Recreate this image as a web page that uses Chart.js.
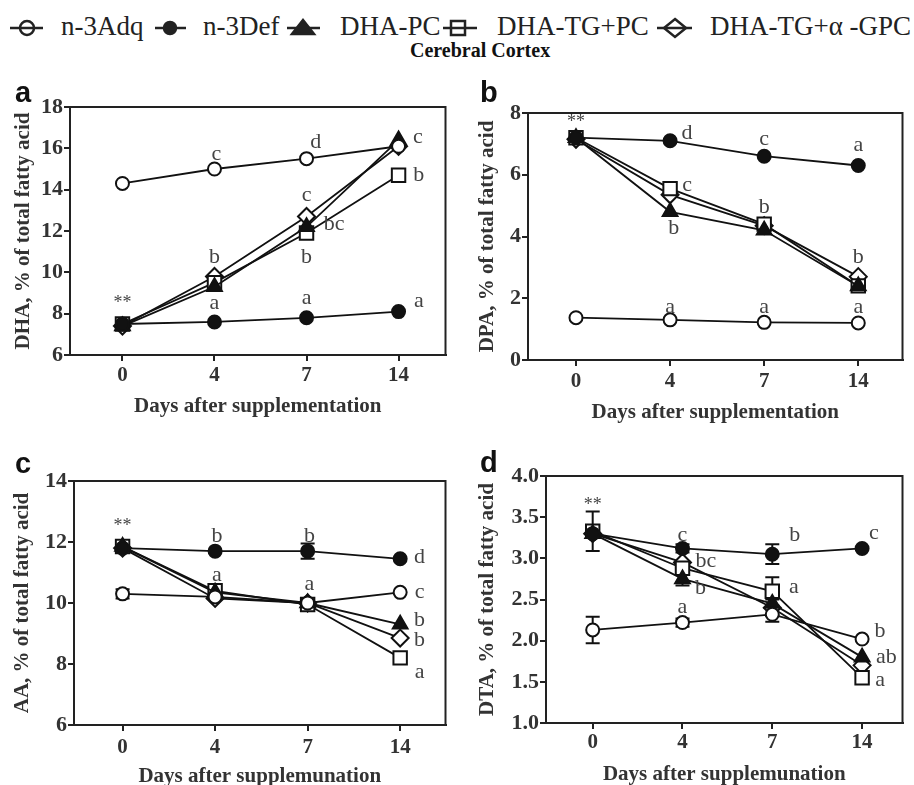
<!DOCTYPE html>
<html lang="en">
<head>
<meta charset="UTF-8">
<title>Cerebral Cortex</title>
<script src="https://cdn.jsdelivr.net/npm/chart.js"></script>
<style>
  body { margin: 0; background: #fff; width: 914px; height: 785px; overflow: hidden; position: relative;
         font-family: "Liberation Serif", "Times New Roman", serif; }
  canvas { position: absolute; }
  .leg { position: absolute; top: 13px; font-size: 27px; line-height: 27px; color: #222; white-space: nowrap; }
  .tag { position: absolute; font-family: "Liberation Sans", Arial, sans-serif; font-weight: bold;
         font-size: 29px; line-height: 29px; color: #111; }
  .head { position: absolute; left: 410px; top: 40px; font-weight: bold; font-size: 20px; line-height: 20px; color: #111; }
</style>
</head>
<body>

<!-- legend -->
<svg width="914" height="50" style="position:absolute;left:0;top:0">
  <g stroke="#222" stroke-width="2.5" fill="none">
    <line x1="10" y1="28" x2="43" y2="28"/><circle cx="27" cy="28" r="7"/>
    <line x1="155" y1="28" x2="186" y2="28"/><circle cx="170" cy="28" r="6" fill="#222"/>
    <line x1="287" y1="28" x2="320" y2="28"/><polygon points="303,20 292,34 314,34" fill="#222"/>
    <line x1="443" y1="28" x2="477" y2="28"/><rect x="451" y="21" width="14" height="14"/>
    <line x1="657" y1="28" x2="692" y2="28"/><polygon points="675,19 686,28 675,37 664,28"/>
  </g>
</svg>
<span class="leg" style="left:61px">n-3Adq</span>
<span class="leg" style="left:203px">n-3Def</span>
<span class="leg" style="left:340px">DHA-PC</span>
<span class="leg" style="left:497px">DHA-TG+PC</span>
<span class="leg" style="left:710px">DHA-TG+α -GPC</span>
<div class="head">Cerebral Cortex</div>

<canvas id="pa" width="457" height="355" style="left:0;top:70px"></canvas>
<canvas id="pb" width="457" height="360" style="left:457px;top:70px"></canvas>
<canvas id="pc" width="457" height="365" style="left:0;top:430px"></canvas>
<canvas id="pd" width="457" height="365" style="left:457px;top:430px"></canvas>

<div class="tag" style="left:15px;top:78px">a</div>
<div class="tag" style="left:480px;top:78px">b</div>
<div class="tag" style="left:15px;top:449px">c</div>
<div class="tag" style="left:480px;top:448px">d</div>

<script>
const days = ['0', '4', '7', '14'];
const groups = ['n-3Adq', 'n-3Def', 'DHA-PC', 'DHA-TG+PC', 'DHA-TG+α -GPC'];

// a: DHA
const dhaAdq = [14.3, 15.0, 15.5, 16.1];
const dhaDef = [7.5, 7.6, 7.8, 8.1];
const dhaPC = [7.4, 9.3, 12.2, 16.4];
const dhaTGPC = [7.5, 9.5, 11.9, 14.7];
const dhaGPC = [7.4, 9.8, 12.7, 16.1];
const dhaNotes = [[0, 8.5, '**'], [1.02, 15.7, 'c'], [2.1, 16.3, 'd'], [3.21, 16.55, 'c'], [3.22, 14.7, 'b'],
  [2.0, 13.75, 'c'], [2.3, 12.35, 'bc'], [2.0, 10.75, 'b'], [1.0, 10.75, 'b'],
  [1.0, 8.5, 'a'], [2.0, 8.75, 'a'], [3.22, 8.6, 'a']];

// b: DPA
const dpaAdq = [1.37, 1.3, 1.22, 1.2];
const dpaDef = [7.2, 7.1, 6.6, 6.3];
const dpaPC = [7.2, 4.8, 4.2, 2.4];
const dpaTGPC = [7.2, 5.55, 4.4, 2.4];
const dpaGPC = [7.15, 5.35, 4.35, 2.7];
const dpaNotes = [[0, 7.7, '**'], [1.18, 7.35, 'd'], [2.0, 7.16, 'c'], [3.0, 6.96, 'a'], [1.18, 5.67, 'c'],
  [1.04, 4.28, 'b'], [2.0, 4.96, 'b'], [3.0, 3.34, 'b'], [1.0, 1.72, 'a'], [2.0, 1.72, 'a'], [3.0, 1.72, 'a']];

// c: AA
const aaAdq = [10.3, 10.2, 10.0, 10.35];
const aaDef = [11.8, 11.7, 11.7, 11.45];
const aaPC = [11.85, 10.35, 10.0, 9.3];
const aaTGPC = [11.85, 10.4, 9.95, 8.2];
const aaGPC = [11.8, 10.15, 10.0, 8.85];
const aaErrAdq = [0.15, 0, 0, 0];
const aaErrDef = [0, 0, 0.25, 0];
const aaNotes = [[0, 12.5, '**'], [1.02, 12.2, 'b'], [2.02, 12.2, 'b'], [3.21, 11.5, 'd'], [1.02, 10.9, 'a'],
  [2.02, 10.6, 'a'], [3.21, 10.36, 'c'], [3.21, 9.42, 'b'], [3.21, 8.79, 'b'], [3.21, 7.72, 'a']];

// d: DTA
const dtaAdq = [2.13, 2.22, 2.32, 2.02];
const dtaDef = [3.3, 3.12, 3.05, 3.12];
const dtaPC = [3.3, 2.75, 2.45, 1.8];
const dtaTGPC = [3.33, 2.88, 2.6, 1.55];
const dtaGPC = [3.3, 2.95, 2.4, 1.7];
const dtaErrAdq = [0.16, 0.05, 0.09, 0];
const dtaErrDef = [0, 0.05, 0.12, 0];
const dtaErrPC = [0, 0.08, 0, 0];
const dtaErrTGPC = [0.24, 0.05, 0.17, 0.05];
const dtaErrGPC = [0, 0, 0.1, 0];
const dtaNotes = [[0, 3.65, '**'], [1.0, 3.28, 'c'], [1.26, 2.97, 'bc'], [1.2, 2.64, 'b'], [1.0, 2.41, 'a'],
  [2.25, 3.28, 'b'], [2.24, 2.65, 'a'], [3.13, 3.3, 'c'], [3.2, 2.12, 'b'], [3.27, 1.8, 'ab'], [3.2, 1.52, 'a']];

const serif = '"Liberation Serif", "Times New Roman", serif';
const looks = [
  {style: 'circle', r: 6.5, fill: '#fff'},
  {style: 'circle', r: 6.5, fill: '#111'},
  {style: 'triangle', r: 8.5, fill: '#111'},
  {style: 'rect', r: 9.5, fill: '#fff'},
  {style: 'rectRot', r: 8.5, fill: '#fff'}
];

const frame = {
  id: 'frame',
  beforeDatasetsDraw(chart) {
    const {ctx, chartArea: a} = chart;
    ctx.save();
    ctx.strokeStyle = '#222';
    ctx.lineWidth = 2;
    ctx.strokeRect(a.left, a.top, a.right - a.left, a.bottom - a.top);
    ctx.restore();
  }
};

const errorBars = {
  id: 'errorBars',
  beforeDatasetsDraw(chart) {
    const {ctx, scales: {x, y}} = chart;
    ctx.save();
    ctx.strokeStyle = '#111';
    ctx.lineWidth = 2;
    chart.data.datasets.forEach(ds => {
      if (!ds.err) return;
      ds.data.forEach((p, i) => {
        const e = ds.err[i];
        if (!e) return;
        const px = x.getPixelForValue(p.x);
        const top = y.getPixelForValue(p.y + e), bot = y.getPixelForValue(p.y - e);
        ctx.beginPath();
        ctx.moveTo(px, top); ctx.lineTo(px, bot);
        ctx.moveTo(px - 7, top); ctx.lineTo(px + 7, top);
        ctx.moveTo(px - 7, bot); ctx.lineTo(px + 7, bot);
        ctx.stroke();
      });
    });
    ctx.restore();
  }
};

function letters(notes) {
  return {
    id: 'letters',
    afterDatasetsDraw(chart) {
      const {ctx, scales: {x, y}} = chart;
      ctx.save();
      ctx.fillStyle = '#444';
      ctx.textAlign = 'center';
      ctx.textBaseline = 'middle';
      notes.forEach(([i, v, t]) => {
        ctx.font = (t === '**' ? '18px ' : '22px ') + serif;
        ctx.fillText(t, x.getPixelForValue(i), y.getPixelForValue(v));
      });
      ctx.restore();
    }
  };
}

function makePanel(id, p) {
  const datasets = p.series.map((vals, k) => ({
    label: groups[k],
    data: vals.map((v, i) => ({x: i, y: v})),
    err: p.errs ? p.errs[k] : null,
    borderColor: '#111',
    borderWidth: 1.8,
    pointStyle: looks[k].style,
    pointRadius: looks[k].r,
    pointHoverRadius: looks[k].r,
    pointBackgroundColor: looks[k].fill,
    pointBorderColor: '#111',
    pointBorderWidth: 2,
    tension: 0,
    fill: false
  }));
  return new Chart(document.getElementById(id), {
    type: 'line',
    data: {datasets},
    options: {
      responsive: false,
      animation: false,
      events: [],
      layout: {padding: {top: p.padTop, right: p.padRight, left: 0, bottom: 0}},
      plugins: {legend: {display: false}, tooltip: {enabled: false}},
      scales: {
        x: {
          type: 'linear', min: p.xMin, max: p.xMax,
          afterBuildTicks: s => { s.ticks = days.map((d, i) => ({value: i})); },
          afterFit: s => { s.height = p.xH; },
          ticks: {callback: v => days[v], font: {family: serif, size: 21, weight: 'bold'}, color: '#333',
                  padding: p.xTickPad, maxRotation: 0, autoSkip: false},
          grid: {display: true, drawOnChartArea: false, drawTicks: true, tickLength: 6, color: '#222', lineWidth: 2},
          border: {display: true, color: '#222', width: 2},
          title: {display: true, text: p.xTitle, font: {family: serif, size: 21, weight: 'bold'}, color: '#333',
                  padding: {top: 0, bottom: p.xTitlePad}}
        },
        y: {
          min: p.yMin, max: p.yMax,
          afterFit: s => { s.width = p.yW; },
          ticks: {stepSize: p.yStep, callback: p.yFmt || (v => v), font: {family: serif, size: 22, weight: 'bold'},
                  color: '#333', padding: 1},
          grid: {display: true, drawOnChartArea: false, drawTicks: true, tickLength: 6, color: '#222', lineWidth: 2},
          border: {display: true, color: '#222', width: 2},
          title: {display: true, text: p.yTitle, font: {family: serif, size: 21, weight: 'bold'}, color: '#333',
                  padding: {top: p.yTitlePad, bottom: 0}}
        }
      }
    },
    plugins: [frame, errorBars, letters(p.notes)]
  });
}

makePanel('pa', {
  series: [dhaAdq, dhaDef, dhaPC, dhaTGPC, dhaGPC], notes: dhaNotes,
  xMin: -0.57, xMax: 3.51, yMin: 6, yMax: 18, yStep: 2,
  padTop: 37, padRight: 9, yW: 70, xH: 70, xTickPad: 2, xTitlePad: 5.4, yTitlePad: 11,
  xTitle: 'Days after supplementation', yTitle: 'DHA, % of total fatty acid'
});
makePanel('pb', {
  series: [dpaAdq, dpaDef, dpaPC, dpaTGPC, dpaGPC], notes: dpaNotes,
  xMin: -0.51, xMax: 3.47, yMin: 0, yMax: 8, yStep: 2,
  padTop: 43, padRight: 4, yW: 71, xH: 70, xTickPad: 3.4, xTitlePad: 4.4, yTitlePad: 18.4,
  xTitle: 'Days after supplementation', yTitle: 'DPA, % of total fatty acid'
});
makePanel('pc', {
  series: [aaAdq, aaDef, aaPC, aaTGPC, aaGPC], errs: [aaErrAdq, aaErrDef, null, null, null], notes: aaNotes,
  xMin: -0.525, xMax: 3.49, yMin: 6, yMax: 14, yStep: 2,
  padTop: 51, padRight: 8, yW: 74, xH: 70, xTickPad: 4.4, xTitlePad: 5.4, yTitlePad: 10.4,
  xTitle: 'Days after supplemunation', yTitle: 'AA, % of total fatty acid'
});
makePanel('pd', {
  series: [dtaAdq, dtaDef, dtaPC, dtaTGPC, dtaGPC], errs: [dtaErrAdq, dtaErrDef, dtaErrPC, dtaErrTGPC, dtaErrGPC],
  notes: dtaNotes,
  xMin: -0.52, xMax: 3.45, yMin: 1, yMax: 4, yStep: 0.5, yFmt: v => v.toFixed(1),
  padTop: 46, padRight: 3, yW: 89, xH: 72, xTickPad: 1.4, xTitlePad: 7.4, yTitlePad: 18.4,
  xTitle: 'Days after supplemunation', yTitle: 'DTA, % of total fatty acid'
});
</script>
</body>
</html>
